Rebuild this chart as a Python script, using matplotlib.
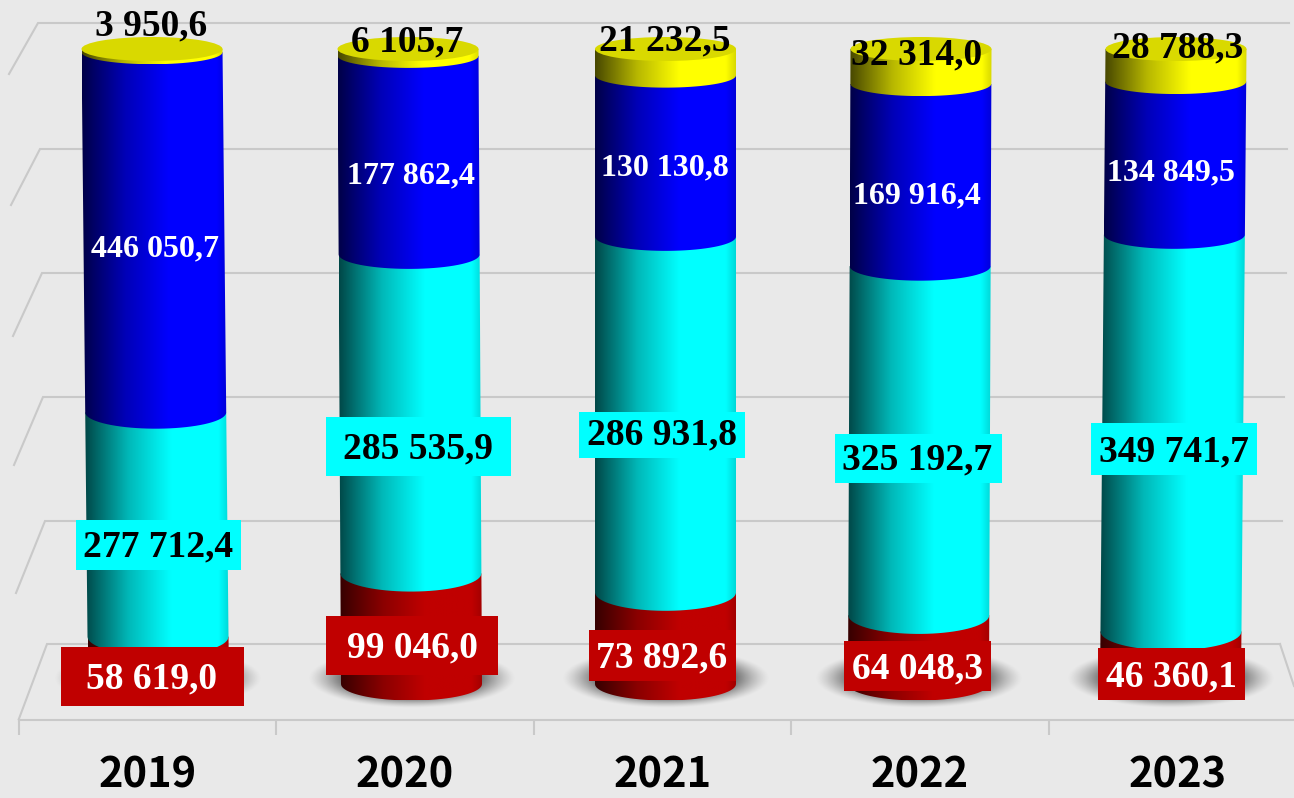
import numpy as np
import matplotlib
matplotlib.use("Agg")
import matplotlib.pyplot as plt
from matplotlib.patches import Ellipse, PathPatch, Rectangle
from matplotlib.path import Path

years = ["2019", "2020", "2021", "2022", "2023"]
red_values = [58619.0, 99046.0, 73892.6, 64048.3, 46360.1]
cyan_values = [277712.4, 285535.9, 286931.8, 325192.7, 349741.7]
blue_values = [446050.7, 177862.4, 130130.8, 169916.4, 134849.5]
yellow_values = [3950.6, 6105.7, 21232.5, 32314.0, 28788.3]

W, H = 1294, 798
BG = "#e9e9e9"
GRID = "#c9c9c9"
FLOOR_PX = 720
CAT_PX = 257.4
CAT_X0 = 19
Y0_PX, Y100_PX = 684, 49
PX_PER_PCT = (Y0_PX - Y100_PX) / 100
HALF_W = 70.5 / CAT_PX

# cylinders lean slightly towards the middle of the chart
centre_bottom_px = [158.5, 411.5, 665.5, 918.5, 1170.5]
centre_top_px = [152, 408, 665.5, 921, 1176]

plt.rcParams["font.family"] = ["Liberation Serif", "DejaVu Sans"]
fig = plt.figure(figsize=(W / 100, H / 100), dpi=100, facecolor=BG)
ax = fig.add_axes([0, (H - FLOOR_PX) / H, 1, FLOOR_PX / H], facecolor=BG)


def px_x(x):
    return (x - CAT_X0) / CAT_PX


def px_y(y):
    return (Y0_PX - y) / PX_PER_PCT


def semi(pct):
    # the base sits flatter than the joints just above it
    if pct == 0:
        return 16.5 / PX_PER_PCT
    return (19.5 - 7.5 * pct / 100) / PX_PER_PCT


def centre(i, pct):
    px = centre_bottom_px[i] + (centre_top_px[i] - centre_bottom_px[i]) * pct / 100
    return px_x(px)


def lower_arc(cx, y, b):
    t = np.linspace(np.pi, 2 * np.pi, 40)
    return np.column_stack([cx + HALF_W * np.cos(t), y + b * np.sin(t)])


def gradient(rgb):
    stops = [0, 0.08, 0.3, 0.6, 0.93, 1]
    shade = [0.28, 0.4, 0.72, 1, 1, 0.85]
    s = np.interp(np.linspace(0, 1, 200), stops, shade)
    return (np.array(rgb)[None, None, :] * s[None, :, None]).astype(float)


def segment(i, low, high, rgb, z):
    bottom = lower_arc(centre(i, low), low, semi(low))
    cx_top = centre(i, high)
    top = np.array([[cx_top + HALF_W, high], [cx_top - HALF_W, high]])
    pts = np.vstack([bottom, top, bottom[:1]])
    codes = [Path.MOVETO] + [Path.LINETO] * (len(pts) - 2) + [Path.CLOSEPOLY]
    clip = PathPatch(Path(pts, codes), transform=ax.transData, fc="none", ec="none")
    ax.add_patch(clip)
    im = ax.imshow(gradient(rgb), aspect="auto", interpolation="bilinear", zorder=z,
                   extent=[pts[:, 0].min(), pts[:, 0].max(), low - semi(low), high])
    im.set_clip_path(clip)


# back wall, side wall and floor
back_y = [644, 521, 397, 273, 149, 23]
front_left = [(18.5, 720), (16, 593), (14, 465), (13, 336), (11, 205), (9, 74)]
back_left_x = [47, 45, 43, 42, 40, 38]
back_right_x = [1280, 1282, 1284, 1286, 1287, 1289]
for yb, xl, xr, fl in zip(back_y, back_left_x, back_right_x, front_left):
    ax.plot([px_x(fl[0]), px_x(xl), px_x(xr)], [px_y(fl[1]), px_y(yb), px_y(yb)],
            color=GRID, lw=1.5, zorder=1, solid_joinstyle="miter")
ax.plot([px_x(1280), px_x(1294)], [px_y(644), px_y(686)], color=GRID, lw=1.5, zorder=1)

# soft shadows under the cylinders
yy, xx = np.mgrid[-1:1:120j, -1:1:240j]
r = np.sqrt(xx ** 2 + yy ** 2)
shadow = np.zeros((120, 240, 4))
shadow[..., :3] = 0.25
shadow[..., 3] = np.clip((1 - r) / 0.4, 0, 1) ** 1.3 * 0.9
for i in range(len(years)):
    cx = centre(i, 0)
    ax.imshow(shadow, aspect="auto", interpolation="bilinear", zorder=2,
              extent=[cx - 104 / CAT_PX, cx + 104 / CAT_PX, px_y(708), px_y(648)])

# stacks, 100 % for each year
colours = [(192, 0, 0), (0, 255, 255), (0, 0, 255), (255, 255, 0)]
series = np.array([red_values, cyan_values, blue_values, yellow_values])
shares = series / series.sum(axis=0) * 100
tops = shares.cumsum(axis=0)
for i in range(len(years)):
    low = 0
    for k, rgb in enumerate(colours):
        segment(i, low, tops[k, i], np.array(rgb) / 255, 3 + k)
        low = tops[k, i]
    ax.add_patch(Ellipse((centre(i, 100), 100), 2 * HALF_W, 2 * semi(100),
                         fc="#d9d900", ec="none", zorder=8))


def fmt(v):
    return f"{v:,.1f}".replace(",", " ").replace(".", ",")


# data labels were moved by hand in the original, so they have own pixel spots
red_spots = [(152, 679), (412, 648), (662, 658), (917, 669), (1171, 677)]
red_boxes = [(61, 244, 647, 706), (326, 498, 616, 675), (589, 736, 630, 681),
             (844, 991, 641, 691), (1098, 1245, 648, 700)]
cyan_spots = [(158, 547), (418, 449), (662, 435), (917, 460), (1174, 452)]
cyan_boxes = [(76, 241, 520, 570), (326, 511, 417, 476), (579, 745, 412, 458),
              (835, 1002, 434, 483), (1091, 1257, 423, 475)]
blue_spots = [(155, 249), (411, 176), (665, 168), (917, 196), (1171, 173)]
yellow_spots = [(151, 26), (407, 42), (665, 41), (917, 55), (1178, 48)]


def label(spot, value, colour, size):
    ax.text(px_x(spot[0]), px_y(spot[1]), fmt(value), color=colour, fontsize=size,
            fontweight="bold", ha="center", va="center", zorder=11)


def box(b, colour):
    ax.add_patch(Rectangle((px_x(b[0]), px_y(b[3])), (b[1] - b[0]) / CAT_PX,
                           (b[3] - b[2]) / PX_PER_PCT, fc=colour, ec="none", zorder=10))


for i in range(len(years)):
    box(red_boxes[i], "#c00000")
    box(cyan_boxes[i], "#00ffff")
    label(red_spots[i], red_values[i], "white", 27)
    label(cyan_spots[i], cyan_values[i], "black", 27)
    label(blue_spots[i], blue_values[i], "white", 23)
    label(yellow_spots[i], yellow_values[i], "black", 27)

for side in ["top", "left", "right"]:
    ax.spines[side].set_visible(False)
ax.spines["bottom"].set_color(GRID)
ax.spines["bottom"].set_linewidth(1.5)
ax.spines["bottom"].set_bounds(0, (W - CAT_X0) / CAT_PX)
ax.set_yticks([])
ax.set_xticks(range(6))
ax.tick_params(axis="x", which="major", length=11, width=1.5, color=GRID, labelbottom=False)
ax.set_xticks(np.arange(5) + 0.5, minor=True)
ax.set_xticklabels(years, minor=True, family=["Noto Sans CJK JP", "DejaVu Sans"],
                   fontsize=30, fontweight="bold")
ax.tick_params(axis="x", which="minor", length=0, pad=25)

# ticks and images change the limits, so set them last
ax.set_xlim(-CAT_X0 / CAT_PX, (W - CAT_X0) / CAT_PX)
ax.set_ylim((Y0_PX - FLOOR_PX) / PX_PER_PCT, Y0_PX / PX_PER_PCT)

fig.savefig("out.png", dpi=100, facecolor=BG)
